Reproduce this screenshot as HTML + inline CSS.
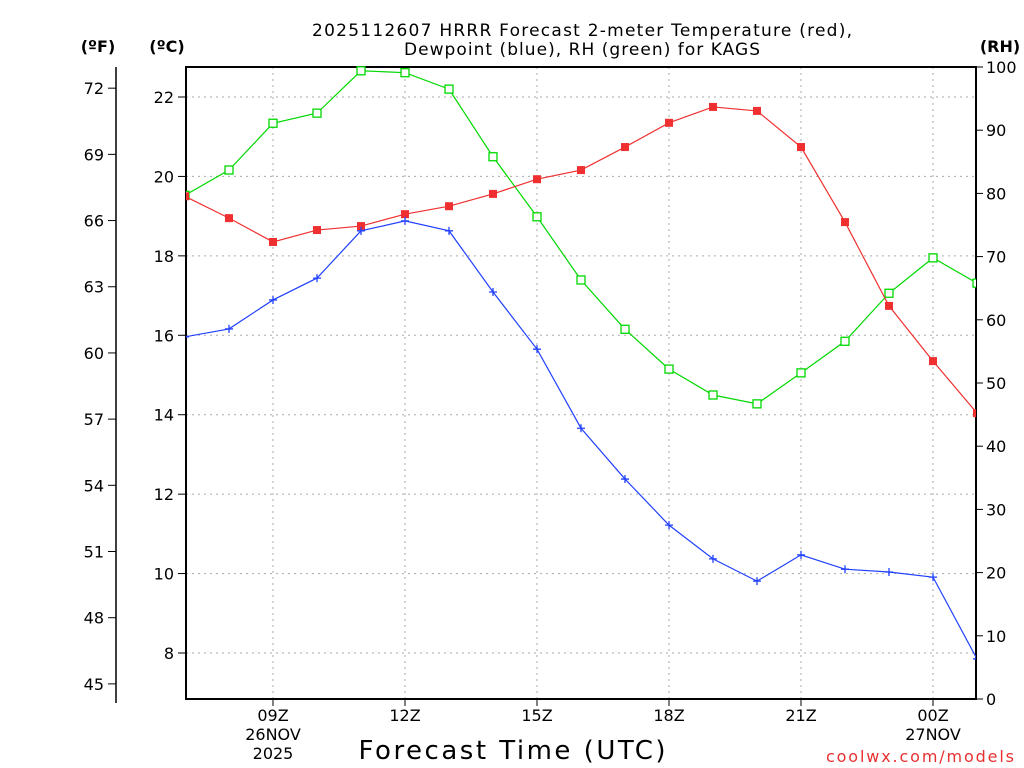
<!DOCTYPE html>
<html><head><meta charset="utf-8">
<style>
html,body{margin:0;padding:0;background:#fff;}
svg{display:block;font-family:"DejaVu Sans","Liberation Sans",sans-serif;}
</style></head>
<body>
<svg id="chart" width="1024" height="768" viewBox="0 0 1024 768" xmlns="http://www.w3.org/2000/svg">
<g id="grid"></g>
<g id="axes"></g>
<g id="series"></g>
<text x="582" y="36" font-size="17" text-anchor="middle" textLength="540" lengthAdjust="spacing">2025112607 HRRR Forecast 2-meter Temperature (red),</text>
<text x="582" y="55" font-size="17" text-anchor="middle" textLength="356" lengthAdjust="spacing">Dewpoint (blue), RH (green) for KAGS</text>
<text x="98" y="52" font-size="16" font-weight="bold" text-anchor="middle">(ºF)</text>
<text x="167" y="52" font-size="16" font-weight="bold" text-anchor="middle">(ºC)</text>
<text x="1000" y="52" font-size="16" font-weight="bold" text-anchor="middle">(RH)</text>
<text x="512" y="759" font-size="26" text-anchor="middle" textLength="307" lengthAdjust="spacing">Forecast Time (UTC)</text>
<text x="1014" y="762" font-size="16" fill="#e83030" text-anchor="end" textLength="188" lengthAdjust="spacing">coolwx.com/models</text>
</svg>
<script>
const hours = [7,8,9,10,11,12,13,14,15,16,17,18,19,20,21,22,23,24,25];
const tempC = [19.5,18.95,18.35,18.65,18.75,19.05,19.25,19.56,19.93,20.16,20.74,21.35,21.75,21.65,20.74,18.85,16.74,15.35,14.04];
const dewC = [15.96,16.16,16.89,17.44,18.63,18.88,18.63,17.09,15.65,13.66,12.38,11.22,10.37,9.81,10.47,10.11,10.04,9.91,7.85];
const rh = [79.7,83.7,91.1,92.7,99.4,99.1,96.5,85.8,76.3,66.3,58.5,52.2,48.1,46.7,51.6,56.6,64.2,69.8,65.8];
const cTicks = [8,10,12,14,16,18,20,22];
const fTicks = [45,48,51,54,57,60,63,66,69,72];
const rhTicks = [0,10,20,30,40,50,60,70,80,90,100];
const xTickHours = [9,12,15,18,21,24];
const xTickLabels = ["09Z","12Z","15Z","18Z","21Z","00Z"];

const NS="http://www.w3.org/2000/svg";
const L=186,R=976,T=67,B=699;
const x=h=>185+(h-7)*44;
const yC=c=>97+(22-c)*(556/14);
const yF=f=>yC((f-32)*5/9);
const yR=r=>B-(r/100)*(B-T);
function mk(tag,attrs,parent,text){const e=document.createElementNS(NS,tag);for(const k in attrs)e.setAttribute(k,attrs[k]);if(text!==undefined)e.textContent=text;parent.appendChild(e);return e;}
const grid=document.getElementById('grid'),axes=document.getElementById('axes'),series=document.getElementById('series');
cTicks.forEach(c=>{const l=mk('line',{x1:L,x2:R,y1:yC(c),y2:yC(c),stroke:'#aaa','stroke-dasharray':'2,4'},grid);


mk('line',{x1:L-8,x2:L,y1:yC(c),y2:yC(c),stroke:'#000'},axes);
const t=mk('text',{x:L-12,y:yC(c)+6,'font-size':16,'text-anchor':'end'},axes,c);

});
xTickHours.forEach((h,i)=>{const l=mk('line',{x1:x(h),x2:x(h),y1:T,y2:B,stroke:'#aaa','stroke-dasharray':'2,4'},grid);


mk('line',{x1:x(h),x2:x(h),y1:B,y2:B+7,stroke:'#000'},axes);
const t=mk('text',{x:x(h),y:721,'font-size':16,'text-anchor':'middle'},axes,xTickLabels[i]);

});
[[9,"26NOV",740],[9,"2025",759],[24,"27NOV",740]].forEach(d=>{const t=mk('text',{x:x(d[0]),y:d[2],'font-size':16,'text-anchor':'middle'},axes,d[1]);

});
fTicks.forEach(f=>{mk('line',{x1:108,x2:116,y1:yF(f),y2:yF(f),stroke:'#000'},axes);
const t=mk('text',{x:104,y:yF(f)+6,'font-size':16,'text-anchor':'end'},axes,f);

});
mk('line',{x1:116,x2:116,y1:67,y2:703,stroke:'#000','stroke-width':1.5},axes);
rhTicks.forEach(r=>{mk('line',{x1:R,x2:R+7,y1:yR(r),y2:yR(r),stroke:'#000'},axes);
const t=mk('text',{x:R+10,y:yR(r)+6,'font-size':16},axes,r);

});
const frame=mk('rect',{x:L,y:T,width:R-L,height:B-T,fill:'none',stroke:'#000','stroke-width':2},axes);


const cp=mk('clipPath',{id:'cp'},series);mk('rect',{x:L,y:T-6,width:R-L,height:B-T+12},cp);
function line(vals,fy,color,name,marker){const g=mk('g',{'clip-path':'url(#cp)'},series);


mk('polyline',{points:vals.map((v,i)=>x(hours[i])+','+fy(v)).join(' '),fill:'none',stroke:color,'stroke-width':1.2},g);
vals.forEach((v,i)=>{const px=x(hours[i]),py=fy(v);let m;
if(marker==='fill')m=mk('rect',{x:px-4,y:py-4,width:8,height:8,fill:color},g);
else if(marker==='open')m=mk('rect',{x:px-4,y:py-4,width:8,height:8,fill:'#fff',stroke:color,'stroke-width':1.3},g);
else m=mk('path',{d:`M${px-4} ${py}H${px+4}M${px} ${py-4}V${py+4}`,stroke:color,'stroke-width':1.3},g);

});}
line(rh,yR,'#00d800','rh-series','open');
line(tempC,yC,'#f03030','temperature-series','fill');
line(dewC,yC,'#2040ff','dewpoint-series','plus');
</script>
</body></html>
